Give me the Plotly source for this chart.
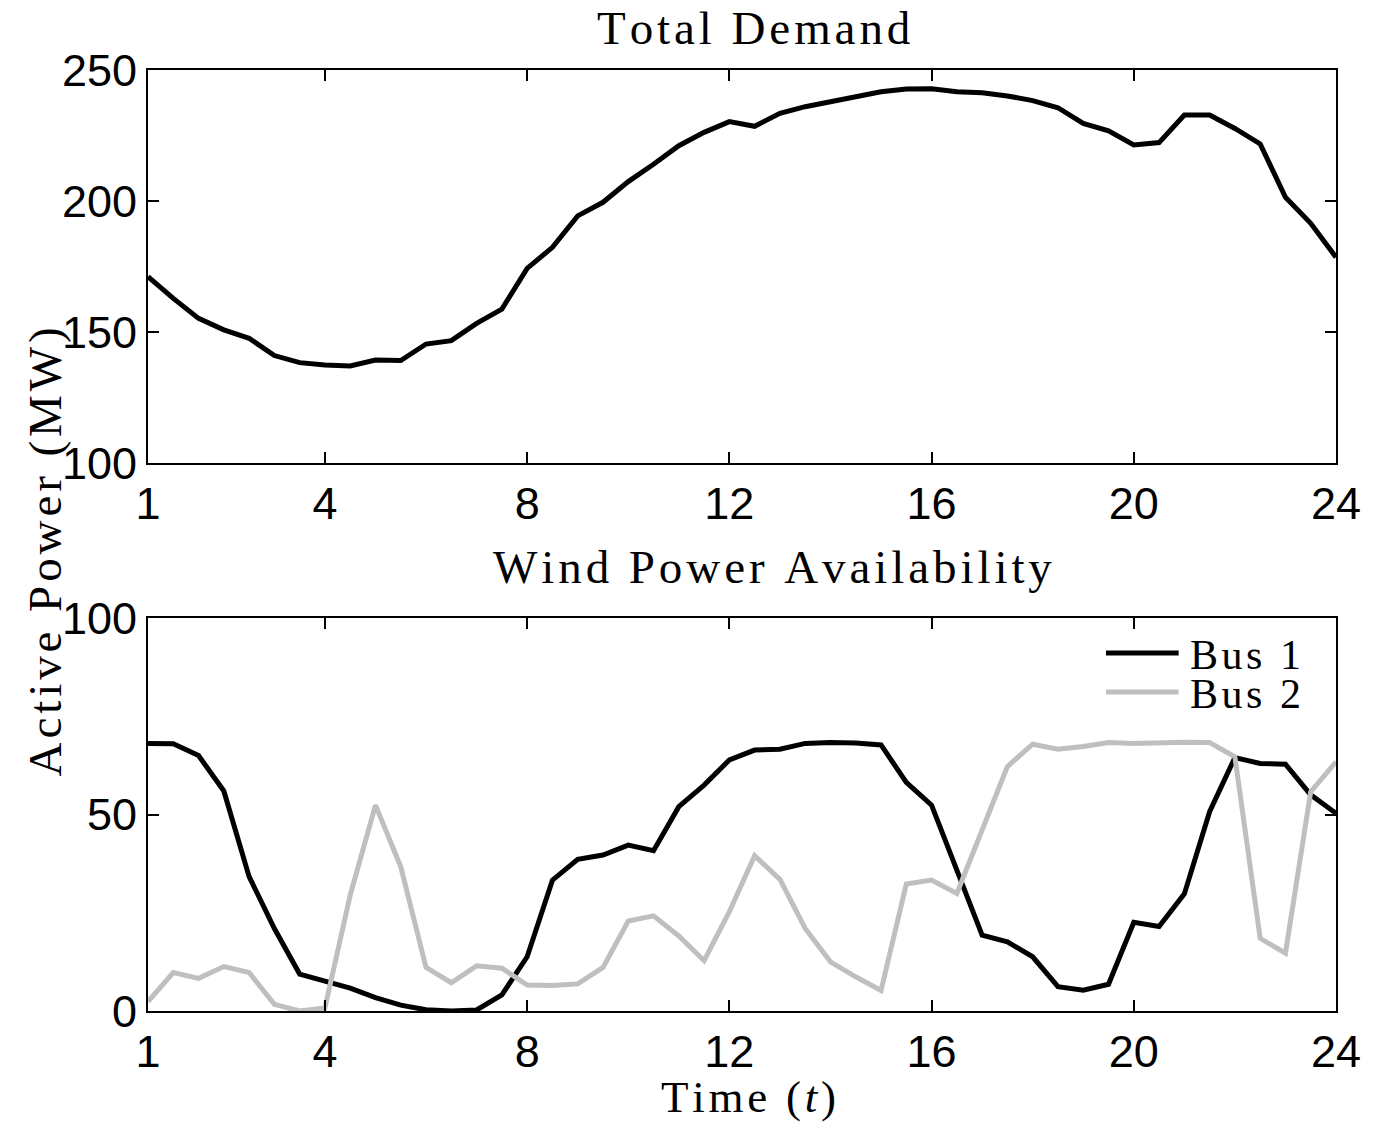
import plotly.graph_objects as go
from plotly.subplots import make_subplots

# ---- data (half-hourly samples, index 1..48) ----
sample_index = list(range(1, 49))

total_demand = [171.1, 162.8, 155.2, 150.8, 147.6, 141.0, 138.3, 137.4, 137.0, 139.3,
                139.1, 145.4, 146.7, 153.3, 158.7, 174.3, 182.3, 194.3, 199.5, 207.4,
                214.0, 221.1, 226.2, 230.3, 228.5, 233.5, 236.0, 237.9, 240.1, 241.7,
                242.7, 242.8, 241.7, 241.3, 240.1, 238.3, 235.6, 229.6, 226.8, 221.4,
                222.3, 232.8, 232.8, 227.7, 221.8, 201.4, 191.5, 178.5]

wind_bus1 = [68.1, 68.0, 65.0, 56.0, 34.2, 21.0, 9.4, 7.6, 5.8, 3.4,
             1.5, 0.3, 0.0, 0.25, 4.1, 13.8, 33.3, 38.6, 39.7, 42.2,
             40.8, 52.0, 57.5, 63.9, 66.4, 66.6, 68.1, 68.3, 68.2, 67.7,
             58.2, 52.4, 35.9, 19.3, 17.6, 13.8, 6.2, 5.3, 6.8, 22.6,
             21.5, 29.8, 50.7, 64.5, 63.0, 62.8, 55.0, 50.3]

wind_bus2 = [2.4, 9.8, 8.3, 11.3, 9.8, 1.7, 0.0, 0.8, 29.5, 52.4,
             36.7, 11.1, 7.2, 11.5, 10.9, 6.6, 6.5, 6.9, 11.1, 22.9,
             24.2, 19.1, 12.8, 25.3, 39.5, 33.5, 21.0, 12.5, 8.7, 5.2,
             32.3, 33.3, 29.9, 46.0, 62.2, 67.9, 66.6, 67.3, 68.3, 68.1,
             68.3, 68.4, 68.3, 64.7, 18.5, 14.7, 55.8, 63.4]

tick_positions = [1, 8, 16, 24, 32, 40, 48]
tick_labels = ["1", "4", "8", "12", "16", "20", "24"]

series_names = ["Bus 1", "Bus 2"]
series_colors = ["#000000", "#bfbfbf"]

SP = "\u200a"


def spaced(s):
    return SP.join(list(s))


SERIF = "Liberation Serif, Times New Roman, serif"
SANS = "Liberation Sans, Arial, Helvetica, sans-serif"

fig = make_subplots(rows=2, cols=1, vertical_spacing=0.1648)

fig.add_trace(go.Scatter(x=sample_index, y=total_demand, mode="lines",
                         line=dict(color="#000000", width=5), showlegend=False),
              row=1, col=1)
for name, vals, col in zip(series_names, [wind_bus1, wind_bus2], series_colors):
    fig.add_trace(go.Scatter(x=sample_index, y=vals, mode="lines", name=name,
                             line=dict(color=col, width=5), showlegend=False),
                  row=2, col=1)

axis_common = dict(showgrid=False, zeroline=False, showline=True, linecolor="black",
                   linewidth=2, mirror="ticks", ticks="inside", ticklen=11,
                   tickwidth=1.5, tickcolor="black",
                   tickfont=dict(family=SANS, size=45, color="black"))

for r in (1, 2):
    fig.update_xaxes(range=[1, 48], tickvals=tick_positions, ticktext=tick_labels,
                     ticklabelstandoff=0, row=r, col=1, **axis_common)

fig.update_yaxes(range=[100, 250], tickvals=[100, 150, 200, 250],
                 domain=[0.5824, 1.0], ticklabelstandoff=0, row=1, col=1, **axis_common)
fig.update_yaxes(range=[0, 100], tickvals=[0, 50, 100],
                 domain=[0.0, 0.4176], ticklabelstandoff=0, row=2, col=1, **axis_common)

W, H = 1373, 1123
ml, mr, mt, mb = 148, 32, 70, 112
pw, ph = W - ml - mr, H - mt - mb


def px_x(px):
    return (px - ml) / pw


def px_y(py):
    return (H - mb - py) / ph


title_font = dict(family=SERIF, size=47, color="black")
annotations = [
    dict(text=spaced("Total Demand"), x=px_x(756), y=px_y(28)),
    dict(text=spaced("Wind Power Availability"), x=px_x(775), y=px_y(567)),
    dict(text=SP.join(["T", "i", "m", "e", " ", "("]) + SP + "<i>t</i>" + SP + ")",
         x=px_x(751), y=px_y(1097), font=dict(family=SERIF, size=45, color="black")),
    dict(text=spaced("Active Power (MW)"), x=px_x(45), y=px_y(552), textangle=-90),
]
for a in annotations:
    a.update(xref="paper", yref="paper", showarrow=False,
             xanchor="center", yanchor="middle")
    a.setdefault("font", title_font)

# legend (key lines + labels, matching the original's compact layout)
shapes = []
legend_rows = [653, 692]
for name, col, ry in zip(series_names, series_colors, legend_rows):
    shapes.append(dict(type="line", xref="paper", yref="paper",
                       x0=px_x(1110), x1=px_x(1183), y0=px_y(ry), y1=px_y(ry),
                       line=dict(color=col, width=5)))
    annotations.append(dict(text=spaced(name), xref="paper", yref="paper",
                            x=px_x(1192), y=px_y(ry + 2), xanchor="left", yanchor="middle",
                            showarrow=False,
                            font=dict(family=SERIF, size=42, color="black")))

fig.update_layout(
    width=W, height=H,
    margin=dict(l=ml, r=mr, t=mt, b=mb),
    paper_bgcolor="white", plot_bgcolor="white",
    annotations=annotations,
    shapes=shapes,
    showlegend=False,
)

fig.write_html("out.html")
